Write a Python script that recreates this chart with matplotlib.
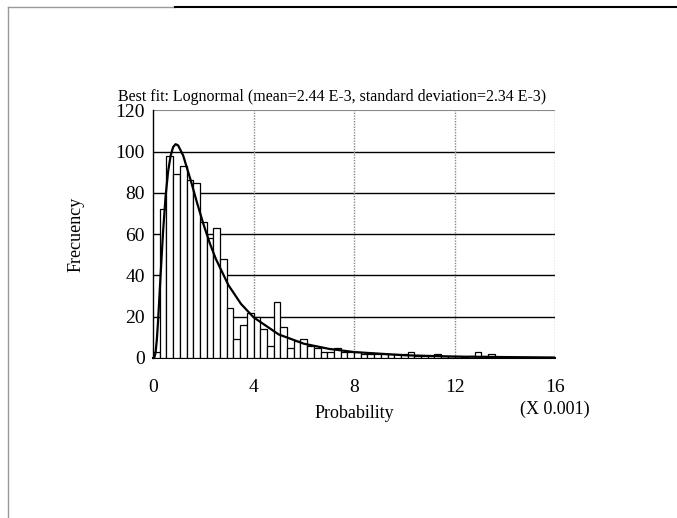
import numpy as np
import matplotlib.pyplot as plt
from matplotlib.lines import Line2D

# ----- data -----
bin_width = 16 / 60  # units of 0.001
counts = [3, 72, 98, 89, 93, 86, 85, 66, 58, 63,
          48, 24, 9, 16, 22, 20, 14, 6, 27, 15,
          5, 8, 9, 6, 5, 3, 3, 5, 3, 3,
          3, 2, 2, 2, 2, 2, 2, 2, 3, 1,
          1, 1, 2, 1, 1, 1, 0, 1, 3, 1,
          2, 0, 0, 0, 0, 0, 0, 0, 0, 0]

# fitted lognormal curve
fit_x = [0.05, 0.1, 0.15, 0.2, 0.3, 0.4, 0.5, 0.6, 0.7, 0.8, 0.9, 1.0,
         1.2, 1.5, 1.75, 2.0, 2.25, 2.5, 3.0, 3.5, 4.0, 5.0, 6.0, 7.0,
         8.0, 10.0, 12.0, 16.0]
fit_y = [0.1, 2.4, 8.4, 17.5, 39.7, 61.1, 78.2, 90.3, 97.9, 102.2, 103.6, 103.0,
         98.1, 86.1, 75.3, 65.1, 55.9, 48.0, 35.3, 26.2, 19.7, 11.4, 6.9, 4.4,
         2.85, 1.3, 0.65, 0.2]

xticks = [0, 4, 8, 12, 16]
yticks = [0, 20, 40, 60, 80, 100, 120]
title = "Best fit: Lognormal (mean=2.44 E-3, standard deviation=2.34 E-3)"

plt.rcParams['font.family'] = ['Liberation Serif', 'DejaVu Serif']

fig = plt.figure(figsize=(6.77, 5.18), dpi=100)
ax = fig.add_axes([0.226, 0.309, 0.594, 0.478])

edges = np.arange(len(counts)) * bin_width
ax.bar(edges, counts, width=bin_width, align='edge',
       facecolor='white', edgecolor='black', linewidth=0.9, zorder=3)
ax.plot(fit_x, fit_y, color='black', linewidth=1.6, zorder=4)

ax.set_xlim(0, 16)
ax.set_ylim(0, 120)
ax.set_xticks(xticks)
ax.set_yticks(yticks)
ax.tick_params(length=0, labelsize=14)
ax.tick_params(axis='x', pad=15)
ax.tick_params(axis='y', pad=6)

# grid: solid black horizontals, dotted grey verticals
for y in yticks[1:-1]:
    ax.axhline(y, color='black', linewidth=1.0, zorder=1)
ax.axhline(120, color='#888888', linewidth=0.8, zorder=1)
for x in xticks[1:]:
    ax.axvline(x, color='#888888', linewidth=1.0, linestyle=(0, (1, 1)), zorder=1)

for s in ['top', 'right']:
    ax.spines[s].set_visible(False)
ax.spines['left'].set_linewidth(1.0)
ax.spines['bottom'].set_linewidth(1.5)

ax.set_ylabel('Frecuency', fontsize=13, labelpad=22)
ax.set_xlabel('Probability', fontsize=13, labelpad=7)
ax.text(1.0, -0.206, '(X 0.001)', transform=ax.transAxes, ha='center',
        va='center', fontsize=13)
fig.text(0.175, 0.813, title, fontsize=11.5, ha='left', va='center')

# page frame
fig.add_artist(Line2D([8 / 677, 175 / 677], [1 - 7 / 518, 1 - 7 / 518],
                      color='#999999', linewidth=1, transform=fig.transFigure))
fig.add_artist(Line2D([175 / 677, 1], [1 - 7 / 518, 1 - 7 / 518],
                      color='black', linewidth=1.5, transform=fig.transFigure))
fig.add_artist(Line2D([8 / 677, 8 / 677], [0, 1 - 7 / 518],
                      color='#999999', linewidth=1, transform=fig.transFigure))

fig.savefig('out.png', dpi=100)
